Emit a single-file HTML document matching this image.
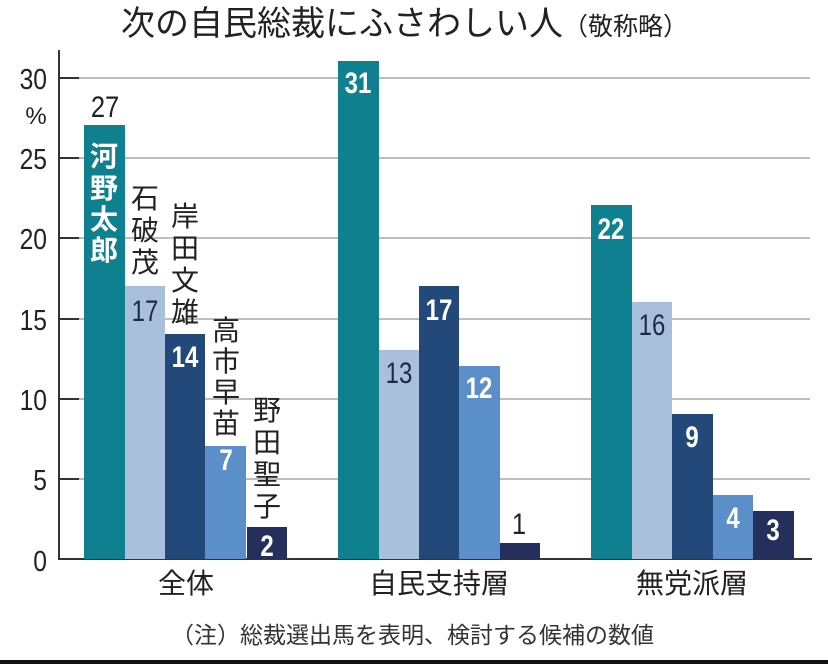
<!DOCTYPE html>
<html><head><meta charset="utf-8"><style>
html,body{margin:0;padding:0;background:#fff;}
svg text{font-family:"Liberation Sans","Noto Sans CJK JP",sans-serif;}
</style></head><body>
<svg width="828" height="664" viewBox="0 0 828 664" xmlns="http://www.w3.org/2000/svg">
<rect width="828" height="664" fill="#fff"/>
<text x="121" y="35" font-size="34" fill="#222">次の自民総裁にふさわしい人<tspan font-size="25">（敬称略）</tspan></text>
<g stroke="#bdbdbd" stroke-width="2">
<line x1="60" y1="78" x2="810" y2="78"/>
<line x1="60" y1="158" x2="810" y2="158"/>
<line x1="60" y1="238" x2="810" y2="238"/>
<line x1="60" y1="319" x2="810" y2="319"/>
<line x1="60" y1="399" x2="810" y2="399"/>
<line x1="60" y1="479" x2="810" y2="479"/>
</g>
<g stroke="#333" stroke-width="2">
<line x1="59" y1="50" x2="59" y2="560"/>
<line x1="59" y1="559" x2="812" y2="559"/>
<line x1="59" y1="78" x2="79" y2="78"/><line x1="59" y1="158" x2="79" y2="158"/>
<line x1="59" y1="238" x2="79" y2="238"/><line x1="59" y1="319" x2="79" y2="319"/>
<line x1="59" y1="399" x2="79" y2="399"/><line x1="59" y1="479" x2="79" y2="479"/>
</g>
<g font-size="29" fill="#222" text-anchor="end">
<text transform="translate(47,89) scale(0.85,1)">30</text>
<text transform="translate(47,169) scale(0.85,1)">25</text>
<text transform="translate(47,249) scale(0.85,1)">20</text>
<text transform="translate(47,330) scale(0.85,1)">15</text>
<text transform="translate(47,410) scale(0.85,1)">10</text>
<text transform="translate(47,490) scale(0.85,1)">5</text>
<text transform="translate(47,571) scale(0.85,1)">0</text>
</g>
<text x="36" y="124" font-size="24" fill="#222" text-anchor="middle">%</text>
<g>
<rect x="84" y="125" width="41" height="434" fill="#0f8090"/>
<rect x="125" y="286" width="40" height="273" fill="#a8c0dc"/>
<rect x="165" y="334" width="40" height="225" fill="#23497a"/>
<rect x="205" y="446" width="41" height="113" fill="#5b8fc9"/>
<rect x="247" y="527" width="40" height="32" fill="#252f5c"/>
<rect x="338" y="61" width="41" height="498" fill="#0f8090"/>
<rect x="379" y="350" width="40" height="209" fill="#a8c0dc"/>
<rect x="419" y="286" width="40" height="273" fill="#23497a"/>
<rect x="459" y="366" width="41" height="193" fill="#5b8fc9"/>
<rect x="500" y="543" width="40" height="16" fill="#252f5c"/>
<rect x="591" y="205" width="41" height="354" fill="#0f8090"/>
<rect x="632" y="302" width="40" height="257" fill="#a8c0dc"/>
<rect x="672" y="414" width="41" height="145" fill="#23497a"/>
<rect x="713" y="495" width="40" height="64" fill="#5b8fc9"/>
<rect x="753" y="511" width="41" height="48" fill="#252f5c"/>
</g>
<g font-size="30" text-anchor="middle" fill="#fff" font-weight="bold">
<text transform="translate(145,321) scale(0.8,1)" fill="#1e2a44" font-weight="normal">17</text>
<text transform="translate(185,367) scale(0.8,1)">14</text>
<text transform="translate(226,470) scale(0.8,1)">7</text>
<text transform="translate(267,556) scale(0.8,1)">2</text>
<text transform="translate(358,93) scale(0.8,1)">31</text>
<text transform="translate(399,383) scale(0.8,1)" fill="#1e2a44" font-weight="normal">13</text>
<text transform="translate(439,320) scale(0.8,1)">17</text>
<text transform="translate(479,398) scale(0.8,1)">12</text>
<text transform="translate(611,239) scale(0.8,1)">22</text>
<text transform="translate(652,335) scale(0.8,1)" fill="#1e2a44" font-weight="normal">16</text>
<text transform="translate(692,447) scale(0.8,1)">9</text>
<text transform="translate(733,528) scale(0.8,1)">4</text>
<text transform="translate(773,540) scale(0.8,1)">3</text>
</g>
<g font-size="30" text-anchor="middle" fill="#222">
<text transform="translate(105,117) scale(0.85,1)">27</text>
<text transform="translate(519,534) scale(0.85,1)">1</text>
</g>
<g font-size="28" text-anchor="middle" font-weight="bold" fill="#fff">
<text x="104" y="166">河</text><text x="104" y="198">野</text><text x="104" y="229">太</text><text x="104" y="260">郎</text>
</g>
<g font-size="28" text-anchor="middle" fill="#222">
<text x="145" y="208">石</text><text x="145" y="240">破</text><text x="145" y="272">茂</text>
<text x="185" y="226">岸</text><text x="185" y="258">田</text><text x="185" y="290">文</text><text x="185" y="322">雄</text>
<text x="226" y="340">高</text><text x="226" y="371">市</text><text x="226" y="402">早</text><text x="226" y="433">苗</text>
<text x="267" y="420">野</text><text x="267" y="452">田</text><text x="267" y="484">聖</text><text x="267" y="516">子</text>
</g>
<g font-size="28" text-anchor="middle" fill="#222">
<text x="186" y="593">全体</text>
<text x="439" y="593">自民支持層</text>
<text x="692" y="593">無党派層</text>
</g>
<text x="171" y="643" font-size="23" fill="#333">（注）総裁選出馬を表明、検討する候補の数値</text>
<rect x="0" y="660" width="828" height="4" fill="#111"/>
</svg>
</body></html>
